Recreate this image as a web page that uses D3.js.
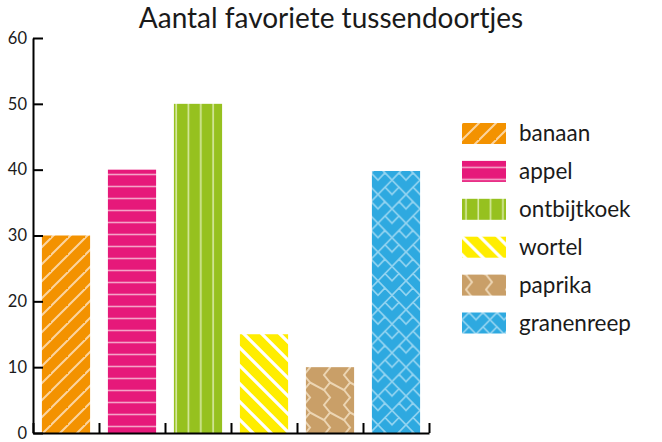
<!DOCTYPE html>
<html>
<head>
<meta charset="utf-8">
<script src="https://cdn.jsdelivr.net/npm/d3@7"></script>
<style>
  body { margin: 0; background: #fff; }
  text { font-family: Lato, "Noto Sans", sans-serif; fill: #1a1a1a; }
</style>
</head>
<body>
<div id="chart"></div>
<script>
const categories = ["banaan", "appel", "ontbijtkoek", "wortel", "paprika", "granenreep"];
const values = [30, 40, 50, 15, 10, 39.8];
const colors = ["#f39200", "#e6197a", "#96c11f", "#ffed00", "#c99f68", "#2ea9e0"];
const yTicks = [0, 10, 20, 30, 40, 50, 60];
const title = "Aantal favoriete tussendoortjes";

const width = 662, height = 442;
const margin = { top: 38, left: 33, bottom: 9 };
const plotW = 396;

const svg = d3.select("#chart").append("svg")
  .attr("width", width)
  .attr("height", height);

// Patterns, one per category
const defs = svg.append("defs");

function pattern(id, w, h, bg) {
  const p = defs.append("pattern")
    .attr("id", id)
    .attr("patternUnits", "userSpaceOnUse")
    .attr("width", w)
    .attr("height", h);
  p.append("rect").attr("width", w).attr("height", h).attr("fill", bg);
  return p;
}

// banaan: diagonal "/"
let p = pattern("pat0", 17, 17, colors[0]);
p.append("path").attr("d", "M-2,19 L19,-2 M-19,19 L2,-2 M15,36 L36,15")
  .attr("stroke", "#fcd49f").attr("stroke-width", 2);

// appel: horizontal lines
p = pattern("pat1", 12, 12, colors[1]);
p.append("path").attr("d", "M0,6.5 L12,6.5")
  .attr("stroke", "#f4a3c7").attr("stroke-width", 1.6);

// ontbijtkoek: vertical lines
p = pattern("pat2", 12.3, 12, colors[2]);
p.append("path").attr("d", "M4,0 L4,12")
  .attr("stroke", "#d8e9a4").attr("stroke-width", 1.6);

// wortel: diagonal "\"
p = pattern("pat3", 18, 18, colors[3]);
p.append("path").attr("d", "M-2,-2 L20,20 M-20,-2 L2,20 M16,-2 L38,20")
  .attr("stroke", "#ffffff").attr("stroke-width", 3.2);

// paprika: zigzag with connectors
p = pattern("pat4", 20, 30, colors[4]);
p.append("path")
  .attr("d", "M4,0 L10,7.5 L4,15 L10,22.5 L4,30 M10,22.5 L24,30 M-10,22.5 L4,30 M4,0 L-2,-3 M24,0 L18,-3")
  .attr("fill", "none")
  .attr("stroke", "#ecd5b3").attr("stroke-width", 2);

// granenreep: tiled hearts
const W = 28, h1 = 7.2, H = 3 * h1;
p = pattern("pat5", W, 4 * h1, colors[5]);
const heart = (ox, oy) =>
  `M${ox},${oy + h1} L${ox + W / 4},${oy} L${ox + W / 2},${oy + h1} L${ox + 3 * W / 4},${oy} L${ox + W},${oy + h1} L${ox + W / 2},${oy + H} Z`;
const offsets = [[0, 0], [W / 2, 2 * h1], [-W / 2, 2 * h1], [W / 2, -2 * h1], [-W / 2, -2 * h1], [0, -4 * h1], [0, 4 * h1]];
p.append("path")
  .attr("d", offsets.map(o => heart(o[0], o[1])).join(" "))
  .attr("fill", "none")
  .attr("stroke", "#93d4f1").attr("stroke-width", 1.7);

// Scales
const x = d3.scaleBand()
  .domain(categories)
  .range([margin.left, margin.left + plotW])
  .paddingInner(0.27)
  .paddingOuter(0.135);

const y = d3.scaleLinear()
  .domain([0, 60])
  .range([height - margin.bottom, margin.top]);

// Title
svg.append("text")
  .attr("x", width / 2)
  .attr("y", 28)
  .attr("text-anchor", "middle")
  .attr("font-size", "28px")
  .text(title);

// Bars
svg.selectAll(".bar")
  .data(categories)
  .join("rect")
  .attr("class", "bar")
  .attr("x", d => x(d))
  .attr("y", (d, i) => y(values[i]))
  .attr("width", x.bandwidth())
  .attr("height", (d, i) => y(0) - y(values[i]))
  .attr("fill", (d, i) => `url(#pat${i})`);

// Y axis
const yAxis = svg.append("g")
  .attr("transform", `translate(${margin.left},0)`)
  .call(d3.axisLeft(y).tickValues(yTicks).tickSizeInner(-10).tickSizeOuter(0).tickPadding(6));
yAxis.select(".domain").attr("stroke", "#000").attr("stroke-width", 2);
yAxis.selectAll(".tick line").attr("stroke", "#000").attr("stroke-width", 2);
yAxis.selectAll(".tick text")
  .attr("x", -6)
  .attr("font-size", "16.5px")
  .attr("font-family", "Lato, sans-serif")
  .attr("fill", "#1a1a1a");

// X axis: ticks at band boundaries
const xb = d3.scaleLinear()
  .domain([0, categories.length])
  .range(x.range());
const xAxis = svg.append("g")
  .attr("transform", `translate(0,${y(0)})`)
  .call(d3.axisBottom(xb).ticks(categories.length).tickFormat("").tickSizeInner(-10).tickSizeOuter(0));
xAxis.select(".domain").attr("stroke", "#000").attr("stroke-width", 2);
xAxis.selectAll(".tick line").attr("stroke", "#000").attr("stroke-width", 2);

// Legend
const legend = svg.append("g").attr("transform", "translate(462,123)");
const rows = legend.selectAll("g")
  .data(categories)
  .join("g")
  .attr("transform", (d, i) => `translate(0,${i * 37.9})`);
rows.append("rect")
  .attr("width", 44)
  .attr("height", 21)
  .attr("fill", (d, i) => `url(#pat${i})`);
rows.append("text")
  .attr("x", 57)
  .attr("y", 10.5)
  .attr("dy", "0.35em")
  .attr("font-size", "22.5px")
  .text(d => d);
</script>
</body>
</html>
